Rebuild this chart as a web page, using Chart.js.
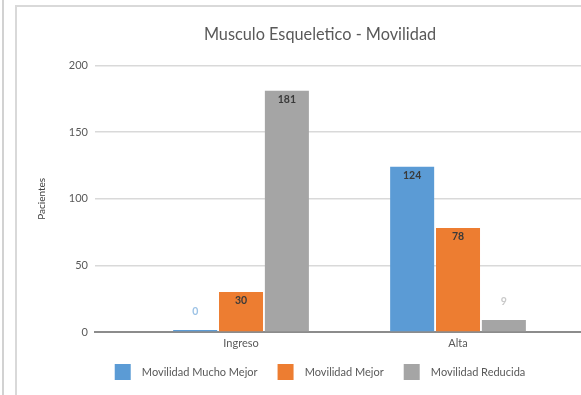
<!DOCTYPE html>
<html>
<head>
<meta charset="utf-8">
<script src="https://cdn.jsdelivr.net/npm/chart.js@4.4.0/dist/chart.umd.min.js"></script>
<style>
  html, body { margin: 0; padding: 0; background: #fff; overflow: hidden; width: 581px; height: 395px; }
  #edge { position: absolute; left: 2px; top: 0; width: 2px; height: 395px; background: #d2d2d2; }
  #frame { position: absolute; left: 15px; top: 5px; width: 700px; height: 500px;
           border-left: 2px solid #d9d9d9; border-top: 2px solid #d9d9d9; }
  #wrap { position: absolute; left: 16px; top: 6px; width: 608px; height: 400px; }
</style>
</head>
<body>
<div id="edge"></div>
<div id="frame"></div>
<div id="wrap"><canvas id="chart" width="608" height="400"></canvas></div>
<script>
// valores
const categories = ["Ingreso", "Alta"];
const muchoMejor = [0, 124];
const mejor = [30, 78];
const reducida = [181, 9];
const yTicks = [0, 50, 100, 150, 200];

const FONT = "Lato, 'Liberation Sans', sans-serif";

// etiquetas de valor sobre/dentro de cada barra
const valueLabels = {
  id: "valueLabels",
  afterDatasetsDraw(chart) {
    const ctx = chart.ctx;
    ctx.save();
    ctx.font = "bold 10.5px " + FONT;
    ctx.textAlign = "center";
    ctx.textBaseline = "middle";
    chart.data.datasets.forEach((ds, di) => {
      chart.getDatasetMeta(di).data.forEach((bar, i) => {
        const v = ds.data[i].y;
        const h = bar.base - bar.y;
        if (h > 20) {
          ctx.fillStyle = "#3a3a3a";
          ctx.fillText(v, bar.x, bar.y + 9);
        } else {
          ctx.fillStyle = ds.labelColor;
          ctx.fillText(v, bar.x, bar.y - 18);
        }
      });
    });
    ctx.restore();
  }
};

// el eje x ocupa poco alto para acercar la leyenda; se amplia despues para no recortar las etiquetas
const xLabelRoom = {
  id: "xLabelRoom",
  afterLayout(chart) {
    const x = chart.scales.x;
    x.bottom = x.top + 22;
  }
};

const toPoints = arr => arr.map((v, i) => ({ x: i, y: v }));

new Chart(document.getElementById("chart"), {
  type: "bar",
  data: {
    datasets: [
      { label: "Movilidad Mucho Mejor", data: toPoints(muchoMejor), backgroundColor: "#5b9bd5",
        labelColor: "#9dc3e6", minBarLength: 2 },
      { label: "Movilidad Mejor", data: toPoints(mejor), backgroundColor: "#ed7d31",
        labelColor: "#f4b183" },
      { label: "Movilidad Reducida", data: toPoints(reducida), backgroundColor: "#a5a5a5",
        labelColor: "#c9c9c9" }
    ]
  },
  options: {
    responsive: false,
    animation: false,
    categoryPercentage: 0.634,
    barPercentage: 0.96,
    layout: { padding: { left: 0, right: 0, top: 0, bottom: 16 } },
    scales: {
      x: {
        type: "linear",
        offset: false,
        min: -0.673,
        max: 1.765,
        afterBuildTicks: s => { s.ticks = categories.map((c, i) => ({ value: i })); },
        afterFit: s => { s.height = 12; },
        grid: { display: false, drawTicks: false },
        border: { display: true, color: "#8c8c8c", width: 2 },
        ticks: {
          padding: 5,
          color: "#595959",
          font: { family: FONT, size: 11 },
          callback: v => categories[v]
        }
      },
      y: {
        min: 0,
        max: 200,
        afterBuildTicks: s => { s.ticks = yTicks.map(v => ({ value: v })); },
        afterFit: s => { s.width = 79; },
        grid: {
          color: c => (c.tick && c.tick.value === 0) ? "rgba(0,0,0,0)" : "#d9d9d9",
          lineWidth: 1.5,
          drawTicks: false
        },
        border: { display: false },
        ticks: { padding: 7, color: "#595959", font: { family: FONT, size: 11 } },
        title: {
          display: true,
          text: "Pacientes",
          color: "#404040",
          padding: { top: 20, bottom: 0 },
          font: { family: FONT, size: 10 }
        }
      }
    },
    plugins: {
      title: {
        display: true,
        text: "Musculo Esqueletico - Movilidad",
        color: "#595959",
        font: { family: FONT, size: 16.3, weight: "normal" },
        padding: { top: 19, bottom: 21 }
      },
      legend: {
        position: "bottom",
        labels: {
          boxWidth: 16,
          boxHeight: 16,
          padding: 20,
          color: "#595959",
          font: { family: FONT, size: 11 },
          generateLabels: chart => Chart.defaults.plugins.legend.labels.generateLabels(chart)
            .map(item => Object.assign(item, { text: "  " + item.text }))
        }
      },
      tooltip: { enabled: false }
    }
  },
  plugins: [valueLabels, xLabelRoom]
});
</script>
</body>
</html>
